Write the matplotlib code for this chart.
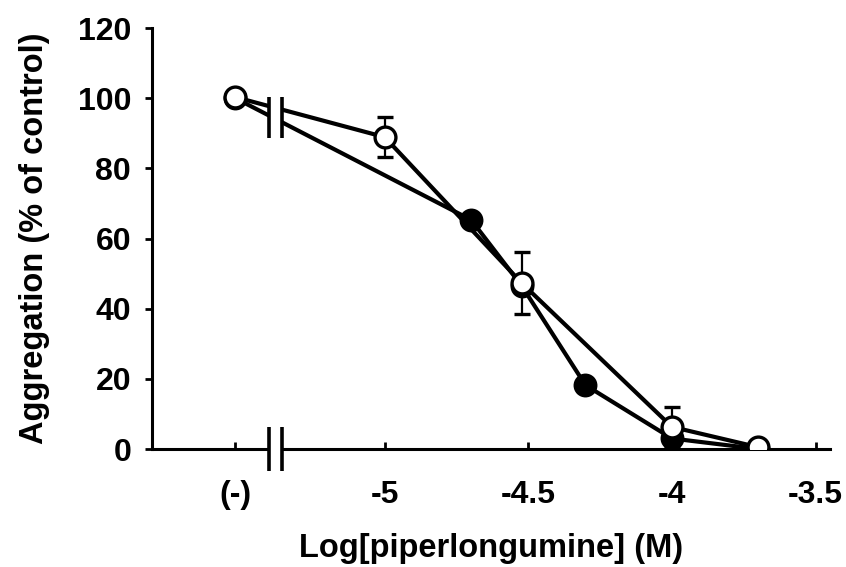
import matplotlib
matplotlib.use("Agg")
import matplotlib.pyplot as plt
from matplotlib.patches import Rectangle

plt.rcParams['font.family'] = ['Liberation Sans', 'DejaVu Sans']
plt.rcParams['font.weight'] = 'bold'

# log concentrations; (-) control is drawn at -5.52
CTRL = -5.52
x_filled = [CTRL, -4.699, -4.523, -4.301, -4.0, -3.699]
y_filled = [100, 65.3, 46.5, 18.2, 3.0, 0.0]

x_open = [CTRL, -5.0, -4.523, -4.0, -3.699]
y_open = [100.3, 88.9, 47.3, 6.3, 0.5]
err_open = [0, 5.7, 8.8, 5.7, 0]

xticks = [CTRL, -5, -4.5, -4, -3.5]
xticklabels = ['(-)', '-5', '-4.5', '-4', '-3.5']
yticks = [0, 20, 40, 60, 80, 100, 120]

BREAK = (-5.402, -5.357)

fig = plt.figure(figsize=(8.46, 5.67), dpi=100)
ax = fig.add_axes([0.1797, 0.2081, 0.981 - 0.1797, 0.9506 - 0.2081])

ax.plot(x_filled, y_filled, color='black', lw=3, marker='o', ms=15,
        mfc='black', mec='black', mew=2.2, zorder=4)
ax.errorbar(x_open, y_open, yerr=err_open, color='black', lw=3, marker='o',
            ms=15, mfc='white', mec='black', mew=2.4, ecolor='black',
            elinewidth=1.6, capsize=5.5, capthick=1.6, zorder=5)

# axis break: white gap through lines and x axis, then the marks
ax.add_patch(Rectangle((BREAK[0], -0.03), BREAK[1] - BREAK[0], 1.03,
                       transform=ax.get_xaxis_transform(), facecolor='white',
                       edgecolor='none', zorder=6, clip_on=False))
for bx in BREAK:
    ax.plot([bx, bx], [88.6, 100.4], color='black', lw=2.6, zorder=7,
            solid_capstyle='butt')
    ax.plot([bx, bx], [-0.052, 0.052], color='black', lw=2.6, zorder=7,
            transform=ax.get_xaxis_transform(), clip_on=False,
            solid_capstyle='butt')

ax.set_xlim(-5.81, -3.45)
ax.set_ylim(0, 120)
ax.set_xticks(xticks)
ax.set_xticklabels(xticklabels)
ax.set_yticks(yticks)

for s in ['top', 'right']:
    ax.spines[s].set_visible(False)
for s in ['left', 'bottom']:
    ax.spines[s].set_linewidth(2.2)

ax.tick_params(axis='x', direction='in', length=5, width=2, labelsize=23, pad=22)
ax.tick_params(axis='y', direction='out', length=5, width=2, labelsize=23, pad=10)

ax.set_xlabel('Log[piperlongumine] (M)', fontsize=23.5, fontweight='bold', labelpad=17)
ax.set_ylabel('Aggregation (% of control)', fontsize=23.5, fontweight='bold', labelpad=20)

fig.savefig('out.png', dpi=100)
